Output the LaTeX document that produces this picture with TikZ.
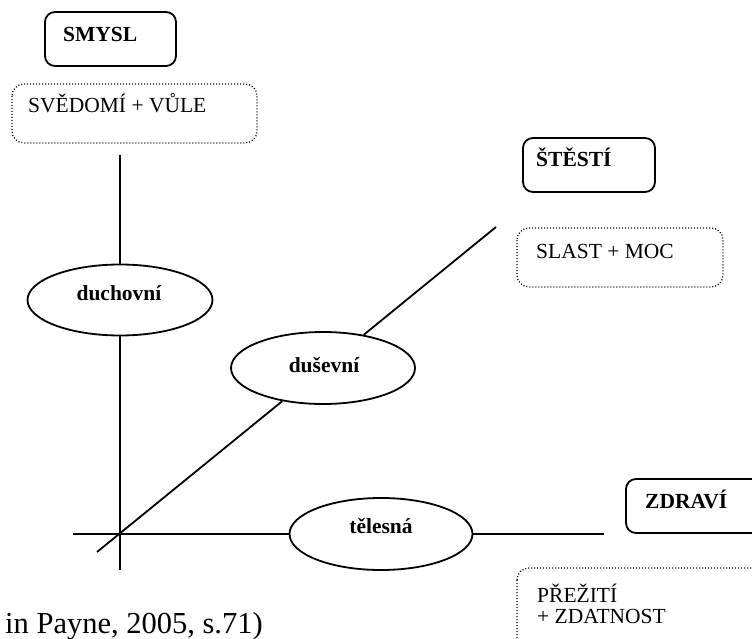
\documentclass[tikz,border=0pt]{standalone}
\usepackage{fontspec}
\setmainfont{Liberation Serif}
\usetikzlibrary{shapes.geometric}
\begin{document}
\begin{tikzpicture}[x=1pt,y=-1pt,
  solidbox/.style={draw,line width=1.8pt,rounded corners=10pt},
  dotbox/.style={draw,line width=1.3pt,dash pattern=on 1pt off 2pt,rounded corners=12pt},
  oval/.style={draw,ellipse,line width=1.8pt,fill=white,inner sep=0pt,minimum width=184pt,minimum height=72pt},
  axis/.style={line width=1.8pt},
  lbl/.style={anchor=base west,inner sep=0pt,font=\fontsize{21.5}{24}\selectfont},
  blbl/.style={lbl,font=\fontsize{21.5}{24}\selectfont\bfseries},
  olbl/.style={anchor=base,inner sep=0pt,font=\fontsize{21.5}{24}\selectfont\bfseries}]
\useasboundingbox (0,0) rectangle (752,639);
\clip (0,0) rectangle (752,639);
% boxes
\draw[solidbox] (45,12) rectangle (176,66);
\node[blbl] (smysl) at (63,42) {SMYSL};
\draw[dotbox] (12,84) rectangle (257,143);
\node[lbl] (svedomi) at (28,113) {SVĚDOMÍ + VŮLE};
\draw[solidbox] (523,138) rectangle (655,192);
\node[blbl] (stesti) at (536,167) {ŠTĚSTÍ};
\draw[dotbox] (517,228) rectangle (723,287);
\node[lbl] (slast) at (536,258) {SLAST + MOC};
\draw[solidbox] (626,479) rectangle (770,533);
\node[blbl] (zdravi) at (645,508) {ZDRAVÍ};
\draw[dotbox] (517,568) rectangle (770,680);
\node[lbl] (prezit) at (537,602) {PŘEŽITÍ};
\node[lbl] (zdatnost) at (537,623) {+ ZDATNOST};
\node[anchor=base west,inner sep=0pt,font=\fontsize{30.5}{34}\selectfont] (payne) at (5,633) {in Payne, 2005, s.71)};
% ellipses
\node[oval,minimum width=185pt,minimum height=71pt] (duch) at (120,300) {};
\node[oval] (dus) at (323,368) {};
\node[oval,minimum width=183pt] (tel) at (381,534) {};
\node[olbl] (duchT) at (119,300) {duchovní};
\node[olbl] (dusT) at (324,372) {duševní};
\node[olbl] (telT) at (381,533) {tělesná};
% axes
\coordinate (vtop) at (120,155);
\coordinate (vbot) at (120,570);
\coordinate (hleft) at (73,534);
\coordinate (hright) at (604,534);
\coordinate (dlow) at (97,552);
\coordinate (dhigh) at (496,227);
\draw[axis] (vtop) -- (duch);
\draw[axis] (duch) -- (vbot);
\draw[axis] (hleft) -- (tel);
\draw[axis] (tel) -- (hright);
\draw[axis] (dlow) -- (dus);
\draw[axis] (dus) -- (dhigh);
\end{tikzpicture}
\end{document}
